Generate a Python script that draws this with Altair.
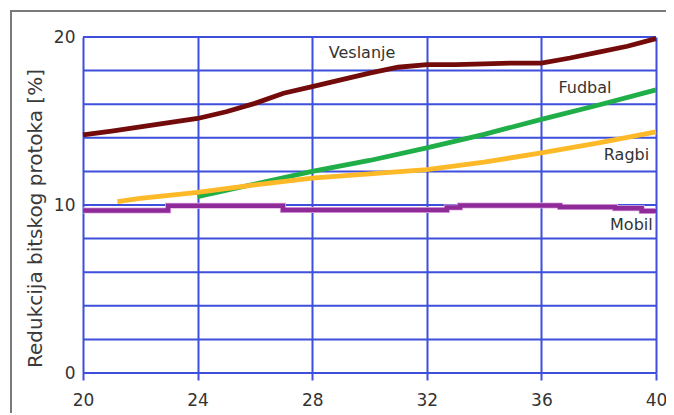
import altair as alt
import pandas as pd

# ---- data ----
ves_x = [20, 21, 22, 23, 24, 25, 26, 27, 28, 29, 30, 31, 32, 33, 34, 35, 36, 37, 38, 39, 40]
ves_y = [14.17, 14.4, 14.65, 14.9, 15.15, 15.55, 16.05, 16.65, 17.05, 17.45, 17.85, 18.2,
         18.35, 18.35, 18.4, 18.45, 18.45, 18.75, 19.1, 19.45, 19.9]

fud_x = [24, 26, 28, 30, 32, 34, 36, 38, 40]
fud_y = [10.5, 11.25, 12.0, 12.65, 13.4, 14.2, 15.1, 15.95, 16.85]

rag_x = [21.2, 22, 24, 26, 28, 30, 32, 34, 36, 38, 40]
rag_y = [10.2, 10.4, 10.75, 11.2, 11.6, 11.85, 12.1, 12.55, 13.1, 13.7, 14.35]

mob_x = [20, 22.97, 26.98, 32.7, 33.16, 36.65, 38.57, 39.5, 40]
mob_y = [9.68, 9.95, 9.7, 9.85, 9.97, 9.88, 9.8, 9.65, 9.65]

series_names = ["Veslanje", "Fudbal", "Ragbi", "Mobil"]
series_colors = ["#740b0b", "#1fae48", "#fdb927", "#8e2b98"]

label_text = ["Veslanje", "Fudbal", "Ragbi", "Mobil"]
label_x = [29.74, 37.52, 38.97, 39.14]
label_y = [19.05, 16.96, 12.98, 8.81]

x_ticks = [20, 24, 28, 32, 36, 40]
y_ticks = [0, 10, 20]
y_grid = [0, 2, 4, 6, 8, 10, 12, 14, 16, 18, 20]

# ---- tables ----
rows = []
for name, xs, ys in [("Veslanje", ves_x, ves_y), ("Fudbal", fud_x, fud_y),
                     ("Ragbi", rag_x, rag_y)]:
    for i, (a, b) in enumerate(zip(xs, ys)):
        rows.append({"series": name, "x": a, "y": b, "o": i})
lines_df = pd.DataFrame(rows)
mob_df = pd.DataFrame({"series": "Mobil", "x": mob_x, "y": mob_y, "o": range(len(mob_x))})
labels_df = pd.DataFrame({"t": label_text, "x": label_x, "y": label_y})
grid_df = pd.DataFrame({"y": y_grid})

GRID = "#3d4fdc"
FONT = "DejaVu Sans"

xscale = alt.Scale(domain=[20, 40], nice=False, zero=False)
yscale = alt.Scale(domain=[0, 20], nice=False)
cscale = alt.Scale(domain=series_names, range=series_colors)

xaxis = alt.Axis(values=x_ticks, grid=True, gridColor=GRID, gridWidth=2, gridOpacity=1,
                 domain=False, ticks=True, tickColor=GRID, tickSize=7, tickWidth=2,
                 labelFont=FONT, labelFontSize=17, labelColor="#333333", labelPadding=12,
                 labelFlush=False, labelOverlap=False, title=None)
yaxis = alt.Axis(values=y_ticks, grid=False, domain=False, ticks=False,
                 labelFont=FONT, labelFontSize=17, labelColor="#333333", labelPadding=8,
                 labelFlush=False, labelOverlap=False,
                 title="Redukcija bitskog protoka [%]", titleFont=FONT, titleFontSize=20,
                 titleFontWeight="normal", titleColor="#3a3a3a", titleAngle=270,
                 titleX=-48, titleY=181, titleAlign="center", titleBaseline="middle")

hgrid = alt.Chart(grid_df).mark_rule(color=GRID, strokeWidth=2).encode(
    y=alt.Y("y:Q", scale=yscale, axis=yaxis),
    x=alt.value(0), x2=alt.value(573),
)

main = alt.Chart(lines_df).mark_line(strokeWidth=4.8, strokeCap="butt").encode(
    x=alt.X("x:Q", scale=xscale, axis=xaxis),
    y=alt.Y("y:Q", scale=yscale),
    color=alt.Color("series:N", scale=cscale, legend=None),
    order="o:Q",
)

mob_under = alt.Chart(mob_df).mark_line(strokeWidth=6, color="#e3afe6",
                                         interpolate="step-after").encode(
    x=alt.X("x:Q", scale=xscale),
    y=alt.Y("y:Q", scale=yscale),
    order="o:Q",
)
mob_line = alt.Chart(mob_df).mark_line(strokeWidth=4.5, interpolate="step-after").encode(
    x=alt.X("x:Q", scale=xscale),
    y=alt.Y("y:Q", scale=yscale),
    color=alt.Color("series:N", scale=cscale, legend=None),
    order="o:Q",
)

labels = alt.Chart(labels_df).mark_text(font=FONT, fontSize=16, color="#333333",
                                        align="center", baseline="middle").encode(
    x=alt.X("x:Q", scale=xscale),
    y=alt.Y("y:Q", scale=yscale),
    text="t:N",
)

frame_df = pd.DataFrame({"k": [0]})
frame_top = alt.Chart(frame_df).mark_rule(color="#7a7a7a", strokeWidth=2).encode(
    x=alt.value(-72), x2=alt.value(600), y=alt.value(-26))
frame_left = alt.Chart(frame_df).mark_rule(color="#7a7a7a", strokeWidth=2).encode(
    x=alt.value(-72), y=alt.value(-27), y2=alt.value(400))

chart = alt.layer(frame_top, frame_left, hgrid, main, mob_under, mob_line, labels).properties(
    width=573, height=336,
    autosize=alt.AutoSizeParams(type="none"),
    padding={"left": 75, "top": 29, "right": 10, "bottom": 40},
).configure_view(stroke=None).configure(background="white")

chart.save("out.html", embed_options={"renderer": "svg", "actions": False})
